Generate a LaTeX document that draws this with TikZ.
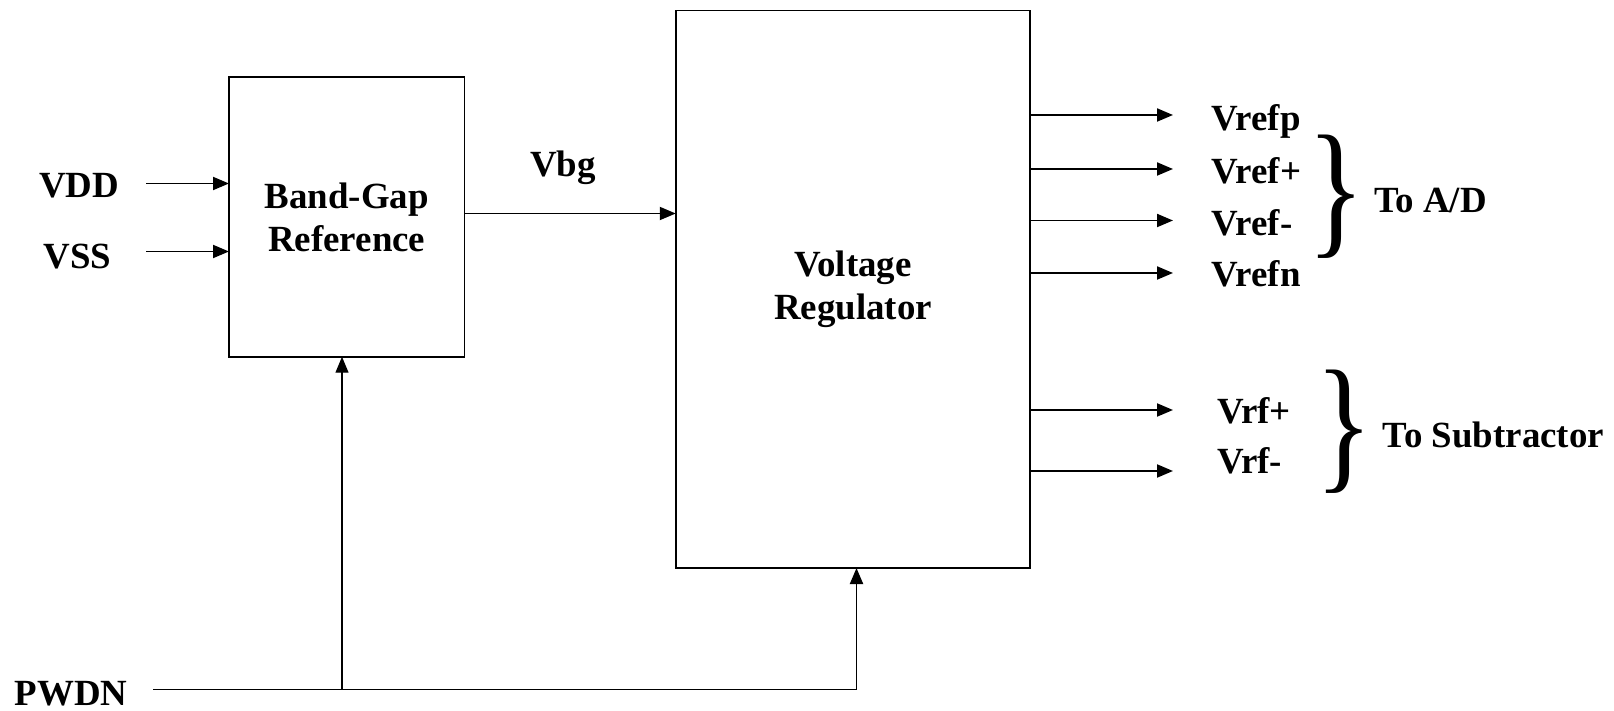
\documentclass[tikz,border=0pt]{standalone}
\usepackage{fontspec}
\setmainfont{Liberation Serif}
\usetikzlibrary{arrows.meta}

\tikzset{
  blockbox/.style={draw,line width=1.1pt,inner sep=0pt,outer sep=0pt,align=center},
  sig/.style={line width=1.1pt,-{Triangle[length=0.32cm,width=0.26cm]}},
  lbl/.style={inner sep=0pt,anchor=base},
  lblw/.style={inner sep=0pt,anchor=base west},
  brace/.style={inner sep=0pt,font=\mdseries\fontsize{21}{24.4}\selectfont},
}

\begin{document}
\begin{tikzpicture}[every node/.style={font=\bfseries\fontsize{21}{24.4}\selectfont}]
  \useasboundingbox (0,0) rectangle (32.28,14.2);
  % blocks
  \node[blockbox,minimum width=4.71cm,minimum height=5.59cm] (bgr) at (6.935,9.86) {Band-Gap\\Reference};
  \node[blockbox,minimum width=7.09cm,minimum height=11.15cm] (vreg) at (17.06,8.415) {Voltage\\Regulator};
  % supply inputs
  \node[lbl] (vdd) at (1.58,10.24) {VDD};
  \node[lbl] (vss) at (1.55,8.82) {VSS};
  \coordinate (vddin) at (2.92,10.53);
  \coordinate (vssin) at (2.92,9.17);
  \draw[sig] (vddin) -- (vddin -| bgr.west);
  \draw[sig] (vssin) -- (vssin -| bgr.west);
  % band-gap voltage
  \node[lbl] (vbg) at (11.26,10.67) {Vbg};
  \draw[sig] (bgr.east |- 0,9.93) -- (vreg.west |- 0,9.93);
  % regulator outputs
  \coordinate (o1) at (23.46,11.90);
  \coordinate (o2) at (23.46,10.82);
  \coordinate (o3) at (23.46,9.79);
  \coordinate (o4) at (23.46,8.74);
  \coordinate (o5) at (23.46,6.00);
  \coordinate (o6) at (23.46,4.78);
  \draw[sig] (o1 -| vreg.east) -- (o1);
  \draw[sig] (o2 -| vreg.east) -- (o2);
  \draw[sig] (o3 -| vreg.east) -- (o3);
  \draw[sig] (o4 -| vreg.east) -- (o4);
  \draw[sig] (o5 -| vreg.east) -- (o5);
  \draw[sig] (o6 -| vreg.east) -- (o6);
  \node[lblw] (vrefp) at (24.23,11.586) {Vrefp};
  \node[lblw] (vrefplus) at (24.23,10.52) {Vref+};
  \node[lblw] (vrefminus) at (24.23,9.486) {Vref-};
  \node[lblw] (vrefn) at (24.23,8.46) {Vrefn};
  \node[lblw] (vrfplus) at (24.34,5.72) {Vrf+};
  \node[lblw] (vrfminus) at (24.34,4.72) {Vrf-};
  % groups
  \node[brace] (adbrace) at (26.73,10.27) {\resizebox{1.15cm}{2.07cm}{\}}};
  \node[brace] (subbrace) at (26.88,5.57) {\resizebox{1.15cm}{2.07cm}{\}}};
  \node[lbl] (toad) at (28.61,9.95) {To A/D};
  \node[lbl] (tosub) at (29.87,5.24) {To Subtractor};
  % power down
  \node[lbl] (pwdn) at (1.42,0.10) {PWDN};
  \coordinate (pwdnin) at (3.06,0.41);
  \coordinate (tap) at (6.84,0.41);
  \coordinate (vrtap) at (17.13,0.41);
  \draw[line width=1.1pt] (pwdnin) -- (tap);
  \draw[sig] (tap) -- (vrtap) -- (vrtap |- vreg.south);
  \draw[sig,line width=0.7pt] (tap) -- (tap |- bgr.south);
\end{tikzpicture}
\end{document}
